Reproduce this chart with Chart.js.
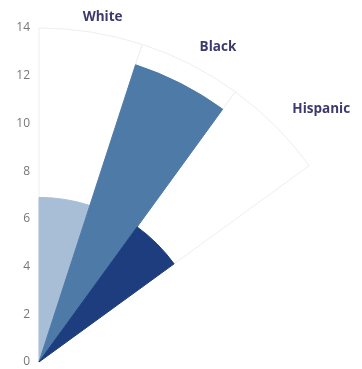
<!DOCTYPE html>
<html>
<head>
<meta charset="utf-8">
<script src="https://cdn.jsdelivr.net/npm/chart.js@4.4.0/dist/chart.umd.min.js"></script>
<style>
  html, body { margin: 0; padding: 0; background: #fff; overflow: hidden; width: 362px; height: 369px; }
  #myChart { position: absolute; left: 0; top: 0; }
</style>
</head>
<body>
<canvas id="myChart" width="800" height="800"></canvas>
<script>
var categories = ['White', 'Black', 'Hispanic'];
var values = [6.9, 13.1, 7.0];
var fullScale = [14, 14, 14];
var sliceColors = ['#a8bed7', '#4e7aa8', '#1d3d7e'];
var sliceAngle = 18; // degrees per slice
var origin = { x: 39, y: 362 }; // where the pole sits on the page

// tick numbers up the left side of the pole
var tickText = {
    id: 'tickText',
    afterDraw: function (chart) {
        var r = chart.scales.r, c = chart.ctx;
        c.save();
        c.font = '12px "Open Sans"';
        c.fillStyle = '#777777';
        c.textAlign = 'right';
        c.textBaseline = 'middle';
        r.ticks.forEach(function (t) {
            c.fillText(t.label, r.xCenter - 9, r.yCenter - r.getDistanceFromCenterForValue(t.value));
        });
        c.restore();
    }
};

// category names just outside each slice
var sliceNames = {
    id: 'sliceNames',
    afterDraw: function (chart) {
        var meta = chart.getDatasetMeta(1), c = chart.ctx;
        c.save();
        c.font = 'bold 13.5px "Open Sans"';
        c.fillStyle = '#3b3a6c';
        c.textAlign = 'left';
        c.textBaseline = 'middle';
        meta.data.forEach(function (arc, i) {
            var p = arc.getProps(['x', 'y', 'startAngle', 'endAngle', 'outerRadius'], true);
            var mid = (p.startAngle + p.endAngle) / 2;
            var deg = mid * 180 / Math.PI + 90;
            var rad = p.outerRadius + 13 + deg / 4;
            var w = c.measureText(categories[i]).width;
            var x = p.x + Math.cos(mid) * rad - w * 0.5 * Math.max(0, 1 - deg / 20);
            var y = p.y + Math.sin(mid) * rad;
            c.fillText(categories[i], x, y);
        });
        c.restore();
    }
};

var canvas = document.getElementById('myChart');
var chart = new Chart(canvas.getContext('2d'), {
    type: 'polarArea',
    data: {
        labels: categories,
        datasets: [{
            data: values,
            angle: sliceAngle,
            backgroundColor: sliceColors,
            borderColor: sliceColors,
            borderWidth: 1
        }, {
            data: fullScale,
            angle: sliceAngle,
            backgroundColor: '#ffffff',
            borderColor: '#eeeeee',
            borderWidth: 1
        }]
    },
    options: {
        responsive: false,
        animation: false,
        layout: { padding: 66 },
        plugins: {
            legend: { display: false },
            tooltip: { enabled: false }
        },
        scales: {
            r: {
                min: 0,
                max: 14,
                startAngle: 0,
                ticks: { display: false, stepSize: 2 },
                grid: { display: false },
                angleLines: { display: false },
                pointLabels: { display: false }
            }
        }
    },
    plugins: [tickText, sliceNames]
});

var rs = chart.scales.r;
canvas.style.left = (origin.x - rs.xCenter) + 'px';
canvas.style.top = (origin.y - rs.yCenter) + 'px';
</script>
</body>
</html>
